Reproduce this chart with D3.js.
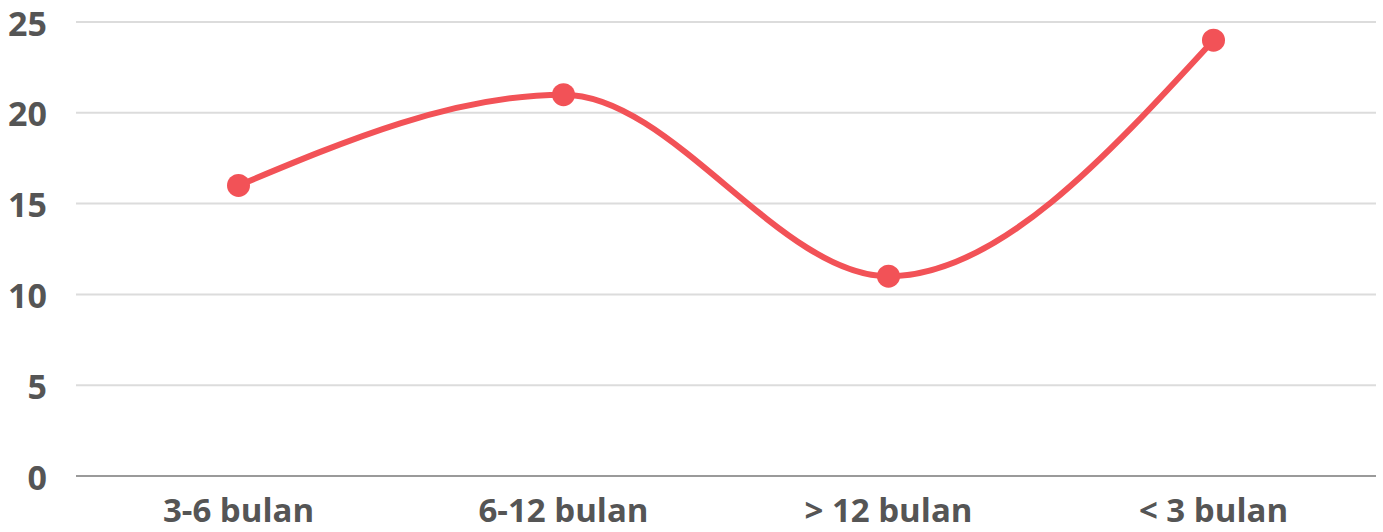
<!DOCTYPE html>
<html>
<head>
<meta charset="utf-8">
<script src="https://cdn.jsdelivr.net/npm/d3@7"></script>
<style>
  body { margin: 0; background: #fff; }
  svg text { font-family: 'Open Sans', sans-serif; font-weight: 700; fill: #555; }
</style>
</head>
<body>
<svg width="1383" height="532"></svg>
<script>
var categories = ['3-6 bulan', '6-12 bulan', '> 12 bulan', '< 3 bulan']
var values = [16, 21, 11, 24]
var yTicks = [0, 5, 10, 15, 20, 25]

var svg = d3.select('svg')
var plotLeft = 76
var plotRight = 1376
var plotTop = 22
var plotBottom = 476

var x = d3.scaleBand()
  .domain(categories)
  .range([plotLeft, plotRight])
  .padding(0)

var y = d3.scaleLinear()
  .domain([0, 25])
  .range([plotBottom, plotTop])

// grid lines
svg.append('g')
  .selectAll('line').data(yTicks).enter().append('line')
  .attr('x1', plotLeft)
  .attr('x2', plotRight)
  .attr('y1', function(d) { return y(d) })
  .attr('y2', function(d) { return y(d) })
  .attr('stroke', function(d) { return d === 0 ? '#9a9a9a' : '#dcdcdc' })
  .attr('stroke-width', 2)

// y labels
svg.append('g')
  .selectAll('text').data(yTicks).enter().append('text')
  .attr('x', 47)
  .attr('y', function(d) { return y(d) })
  .attr('dy', '0.4em')
  .attr('text-anchor', 'end')
  .attr('font-size', 34)
  .text(function(d) { return d })

// x labels
svg.append('g')
  .selectAll('text').data(categories).enter().append('text')
  .attr('x', function(d) { return x(d) + x.bandwidth() / 2 })
  .attr('y', 522)
  .attr('text-anchor', 'middle')
  .attr('font-size', 33)
  .text(function(d) { return d })

var line = d3.line()
  .x(function(d, i) { return x(categories[i]) + x.bandwidth() / 2 })
  .y(function(d) { return y(d) })
  .curve(d3.curveMonotoneX)

svg.append('path')
  .datum(values)
  .attr('fill', 'none')
  .attr('stroke', '#f25257')
  .attr('stroke-width', 6)
  .attr('d', line)

svg.append('g')
  .selectAll('circle').data(values).enter().append('circle')
  .attr('cx', function(d, i) { return x(categories[i]) + x.bandwidth() / 2 })
  .attr('cy', function(d) { return y(d) })
  .attr('r', 11.5)
  .attr('fill', '#f25257')
</script>
</body>
</html>
